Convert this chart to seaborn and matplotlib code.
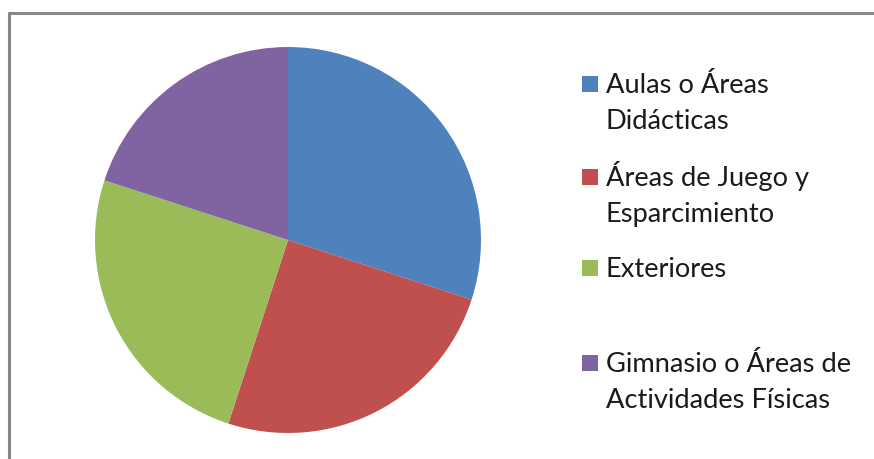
import matplotlib
matplotlib.use('Agg')
import matplotlib.pyplot as plt
import seaborn as sns
from matplotlib.patches import Rectangle
from matplotlib.lines import Line2D

sns.set_style('white')
plt.rcParams['font.family'] = ['Lato', 'DejaVu Sans']

# data
categories = ['Aulas o Áreas\nDidácticas',
              'Áreas de Juego y\nEsparcimiento',
              'Exteriores',
              'Gimnasio o Áreas de\nActividades Físicas']
values = [30, 25, 25, 20]
colors = ['#4F81BD', '#C0504D', '#9BBB59', '#8064A2']

W, H = 874, 459
fig = plt.figure(figsize=(W / 100, H / 100), dpi=100)

# pie axes: centre (288, 240), radius 193 px
cx, cy, r = 288, 240, 193
ax = fig.add_axes([(cx - r) / W, (H - cy - r) / H, 2 * r / W, 2 * r / H])
ax.pie(values, colors=colors, startangle=90, counterclock=False,
       radius=1, wedgeprops=dict(linewidth=0))
ax.set_xlim(-1, 1)
ax.set_ylim(-1, 1)
ax.axis('off')

# chart border (top and left only visible)
fig.add_artist(Line2D([9 / W, 1], [1 - 13 / H, 1 - 13 / H], color='#878787', lw=2.2,
                      transform=fig.transFigure))
fig.add_artist(Line2D([9 / W, 9 / W], [1 - 13 / H, 0], color='#878787', lw=2.2,
                      transform=fig.transFigure))

# legend drawn by hand to follow the original layout
baselines = [93, 186, 277, 372]
for lab, col, b in zip(categories, colors, baselines):
    fig.add_artist(Rectangle((582 / W, 1 - (b - 1) / H), 16 / W, 16 / H,
                             facecolor=col, edgecolor='none',
                             transform=fig.transFigure))
    for i, line in enumerate(lab.split('\n')):
        fig.text(606 / W, 1 - (b + 36 * i) / H, line, fontsize=19.6,
                 color='#1a1a1a', ha='left', va='baseline')

fig.savefig('out.png', dpi=100)
